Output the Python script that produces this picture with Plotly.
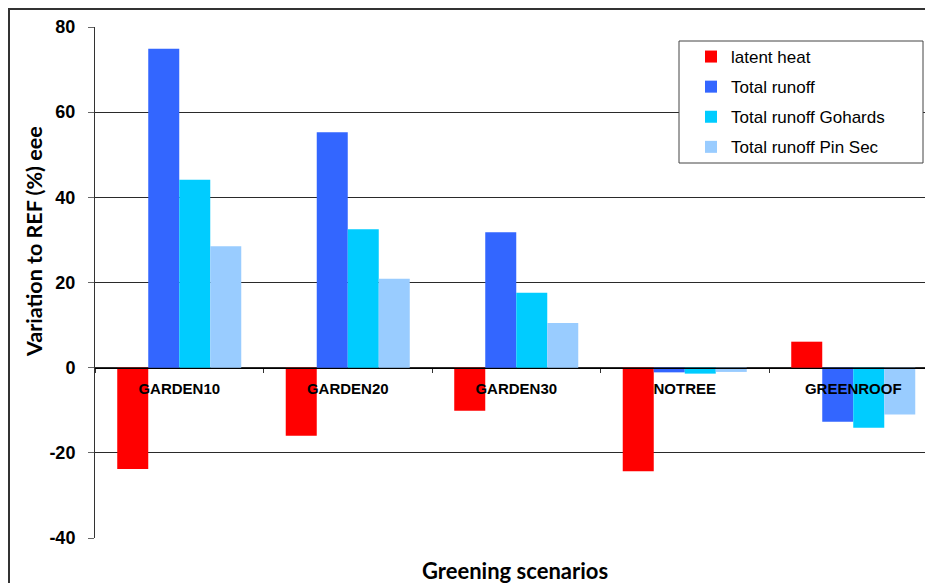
import plotly.graph_objects as go

categories = ["GARDEN10", "GARDEN20", "GARDEN30", "NOTREE", "GREENROOF"]
latent_heat = [-23.8, -16.0, -10.1, -24.3, 6.1]
total_runoff = [74.9, 55.3, 31.8, -1.1, -12.7]
runoff_gohards = [44.1, 32.5, 17.6, -1.4, -14.1]
runoff_pinsec = [28.5, 20.9, 10.5, -1.0, -11.0]
series_names = ["latent heat", "Total runoff", "Total runoff Gohards", "Total runoff Pin Sec"]
series_values = [latent_heat, total_runoff, runoff_gohards, runoff_pinsec]
series_colors = ["#FF0000", "#3366FF", "#00CCFF", "#99CCFF"]
y_ticks = [-40, -20, 0, 20, 40, 60, 80]

OFF = 8  # page body margin
W, H = 933 - OFF, 583 - OFF
# plot area in page (reference) pixels
L_ref, T_ref, B_ref = 95, 27, 538
L, T, B = L_ref - OFF, T_ref - OFF, B_ref - OFF
PW, PH = W - L, B - T


def px_x(x):  # reference page px -> paper fraction
    return (x - OFF - L) / PW


def px_y(y):
    return (B - (y - OFF)) / PH


fig = go.Figure()
for i, (name, vals, col) in enumerate(zip(series_names, series_values, series_colors)):
    fig.add_trace(go.Bar(x=categories, y=vals, name=name, marker=dict(color=col, line=dict(width=0)),
                         legendgroup=f"g{i}"))

cat_w = 168.5
x_end = PW / cat_w - 0.5

fig.update_layout(
    width=W, height=H,
    margin=dict(l=L, r=0, t=T, b=H - B, pad=0),
    paper_bgcolor="white", plot_bgcolor="white",
    barmode="group", bargap=0.264, bargroupgap=0,
    font=dict(family="Arial, Liberation Sans", color="black"),
    showlegend=True,
    legend=dict(x=px_x(691), y=px_y(39), xanchor="left", yanchor="top",
                bgcolor="rgba(0,0,0,0)", borderwidth=0,
                font=dict(family="Arial, Liberation Sans", size=17, color="black"),
                traceorder="grouped", tracegroupgap=5),
    xaxis=dict(range=[-0.5, x_end], anchor="free", position=(0 - y_ticks[0]) / (y_ticks[-1] - y_ticks[0]),
               showline=True, linecolor="black", linewidth=1,
               ticks="outside", ticklen=4, tickcolor="#333", tickson="boundaries",
               tickfont=dict(family="Arial, Liberation Sans", size=15, color="black", weight="bold"),
               ticklabelstandoff=7, showgrid=False, zeroline=False),
    yaxis=dict(range=[y_ticks[0], y_ticks[-1]], tickvals=y_ticks, ticktext=[str(v) for v in y_ticks],
               showline=True, linecolor="#333", linewidth=1,
               ticks="outside", ticklen=6, tickcolor="#666",
               tickfont=dict(family="Arial, Liberation Sans", size=18, color="black", weight="bold"),
               ticklabelstandoff=9,
               showgrid=True, gridcolor="#2a2a2a", gridwidth=1, zeroline=False),
    shapes=[
        dict(type="rect", xref="paper", yref="paper", x0=px_x(9), x1=1.2, y0=-0.3, y1=px_y(9),
             line=dict(color="#333", width=2), fillcolor="rgba(0,0,0,0)", layer="above"),
        dict(type="rect", xref="paper", yref="paper", x0=px_x(679), x1=px_x(923), y0=px_y(163), y1=px_y(41),
             line=dict(color="#444", width=1), fillcolor="white", layer="above"),
    ],
    annotations=[
        dict(text="<b>Variation to REF (%) eee</b>", xref="paper", yref="paper",
             x=px_x(34), y=px_y(242), xanchor="center", yanchor="middle", textangle=-90, showarrow=False,
             font=dict(family="Lato, Open Sans", size=21.5, color="black")),
        dict(text="<b>Greening scenarios</b>", xref="paper", yref="paper",
             x=px_x(515), y=px_y(570), xanchor="center", yanchor="middle", showarrow=False,
             font=dict(family="Lato, Open Sans", size=22, color="black")),
    ],
)

fig.write_html("out.html")
